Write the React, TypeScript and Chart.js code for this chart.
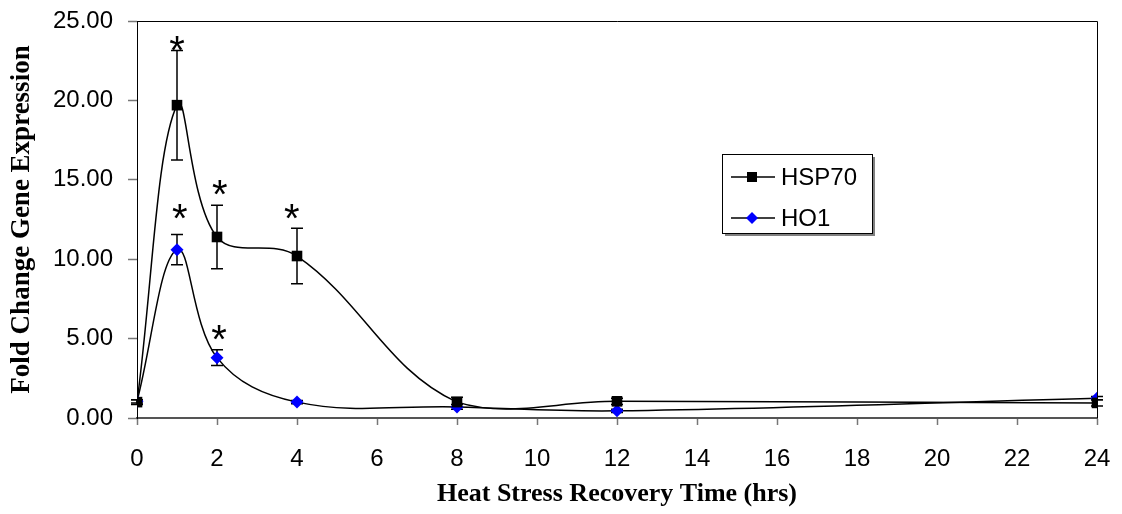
import React, { useEffect, useRef } from "react";
import { Chart, registerables } from "chart.js";

Chart.register(...registerables);

const hours = [0, 1, 2, 4, 8, 12, 24];
const hsp70 = [1.0, 19.7, 11.4, 10.2, 1.0, 1.05, 0.95];
const hsp70Err = [0.15, 3.45, 2.0, 1.75, 0.3, 0.2, 0.2];
const ho1 = [1.05, 10.6, 3.8, 1.0, 0.7, 0.45, 1.25];
const ho1Err = [0.1, 0.95, 0.5, 0.1, 0.15, 0.1, 0.1];

// significance markers (x in hours, y in fold change)
const starX = [1.0, 2.07, 3.87, 1.07, 2.05];
const starY = [23.6, 14.5, 13.0, 13.0, 5.37];

const seriesNames = ["HSP70", "HO1"];
const xTitle = "Heat Stress Recovery Time (hrs)";
const yTitle = "Fold Change Gene Expression";

const errorBarPlugin = {
  id: "errorBars",
  beforeDatasetsDraw(chart: any) {
    const ctx = chart.ctx;
    const xs = chart.scales.x;
    const ys = chart.scales.y;
    ctx.save();
    ctx.strokeStyle = "#000";
    ctx.lineWidth = 1.5;
    chart.data.datasets.forEach((ds: any) => {
      const errs = ds.errors as number[];
      ds.data.forEach((p: any, i: number) => {
        const px = xs.getPixelForValue(p.x);
        const top = ys.getPixelForValue(p.y + errs[i]);
        const bot = ys.getPixelForValue(p.y - errs[i]);
        const cap = 6;
        ctx.beginPath();
        ctx.moveTo(px, top);
        ctx.lineTo(px, bot);
        ctx.moveTo(px - cap, top);
        ctx.lineTo(px + cap, top);
        ctx.moveTo(px - cap, bot);
        ctx.lineTo(px + cap, bot);
        ctx.stroke();
      });
    });
    ctx.restore();
  },
};

const framePlugin = {
  id: "frameAndNotes",
  afterDraw(chart: any) {
    const ctx = chart.ctx;
    const a = chart.chartArea;
    const xs = chart.scales.x;
    const ys = chart.scales.y;
    ctx.save();
    // top and right frame
    ctx.strokeStyle = "#000";
    ctx.lineWidth = 1;
    ctx.beginPath();
    ctx.moveTo(a.left, a.top + 0.5);
    ctx.lineTo(a.right + 0.5, a.top + 0.5);
    ctx.lineTo(a.right + 0.5, a.bottom);
    ctx.stroke();

    // asterisks
    ctx.fillStyle = "#000";
    ctx.font = '40px "Liberation Sans"';
    ctx.textAlign = "center";
    ctx.textBaseline = "alphabetic";
    const m = ctx.measureText("*");
    const off = (m.actualBoundingBoxAscent - m.actualBoundingBoxDescent) / 2;
    starX.forEach((sx, i) => {
      const px = xs.getPixelForValue(sx);
      const py = ys.getPixelForValue(starY[i]);
      ctx.fillText("*", px, py + off);
    });

    // legend
    const lx = 722, ly = 154, lw = 150, lh = 79;
    ctx.fillStyle = "#808080";
    ctx.fillRect(lx + 3, ly + 3, lw, lh);
    ctx.fillStyle = "#fff";
    ctx.fillRect(lx, ly, lw, lh);
    ctx.strokeStyle = "#000";
    ctx.lineWidth = 1;
    ctx.strokeRect(lx + 0.5, ly + 0.5, lw, lh);
    const rows = [177, 218];
    chart.data.datasets.forEach((ds: any, i: number) => {
      const y = rows[i];
      ctx.strokeStyle = "#000";
      ctx.lineWidth = 1.5;
      ctx.beginPath();
      ctx.moveTo(731, y);
      ctx.lineTo(775, y);
      ctx.stroke();
      ctx.fillStyle = ds.pointBackgroundColor;
      const cx = 752;
      if (ds.pointStyle === "rect") {
        ctx.fillRect(cx - 5, y - 5, 10, 10);
      } else {
        ctx.beginPath();
        ctx.moveTo(cx, y - 6);
        ctx.lineTo(cx + 6, y);
        ctx.lineTo(cx, y + 6);
        ctx.lineTo(cx - 6, y);
        ctx.closePath();
        ctx.fill();
      }
      ctx.fillStyle = "#000";
      ctx.font = '24px "Liberation Sans"';
      ctx.textAlign = "left";
      ctx.textBaseline = "middle";
      ctx.fillText(ds.label, 781, y + 1);
    });
    ctx.restore();
  },
};

export default function App() {
  const ref = useRef<HTMLCanvasElement>(null);
  useEffect(() => {
    if (!ref.current) return;
    const chart = new Chart(ref.current, {
      type: "line",
      data: {
        datasets: [
          {
            label: seriesNames[0],
            data: hours.map((h, i) => ({ x: h, y: hsp70[i] })),
            errors: hsp70Err,
            borderColor: "#000",
            borderWidth: 1.5,
            pointStyle: "rect",
            pointRadius: 7.5,
            pointHoverRadius: 7.5,
            pointBackgroundColor: "#000",
            pointBorderColor: "#000",
            pointBorderWidth: 0,
            tension: 0.38,
            fill: false,
          } as any,
          {
            label: seriesNames[1],
            data: hours.map((h, i) => ({ x: h, y: ho1[i] })),
            errors: ho1Err,
            borderColor: "#000",
            borderWidth: 1.5,
            pointStyle: "rectRot",
            pointRadius: 6.5,
            pointHoverRadius: 6.5,
            pointBackgroundColor: "#0000ff",
            pointBorderColor: "#0000ff",
            pointBorderWidth: 0,
            tension: 0.38,
            fill: false,
          } as any,
        ],
      },
      options: {
        animation: false,
        responsive: false,
        events: [],
        layout: { padding: { left: 0, top: 21, right: 25, bottom: 0 } },
        plugins: { legend: { display: false }, tooltip: { enabled: false } },
        scales: {
          x: {
            type: "linear",
            min: 0,
            max: 24,
            afterFit: (s: any) => {
              s.height = 96;
              s.paddingLeft = 0;
              s.paddingRight = 0;
            },
            ticks: {
              stepSize: 2,
              color: "#000",
              padding: 20,
              font: { family: "Liberation Sans", size: 24 },
            },
            grid: {
              drawOnChartArea: false,
              drawTicks: true,
              tickLength: 7,
              tickColor: "#777",
              tickWidth: 1.5,
            },
            border: { color: "#555", width: 2 },
            title: {
              display: true,
              text: xTitle,
              color: "#000",
              padding: { top: 0, bottom: 4 },
              font: { family: "Liberation Serif", size: 26, weight: "bold" },
            },
          },
          y: {
            min: 0,
            max: 25,
            afterFit: (s: any) => {
              s.width = 137;
              s.paddingTop = 0;
              s.paddingBottom = 0;
            },
            ticks: {
              stepSize: 5,
              color: "#000",
              padding: 15,
              callback: (v: any) => Number(v).toFixed(2),
              font: { family: "Liberation Sans", size: 24 },
            },
            grid: {
              drawOnChartArea: false,
              drawTicks: true,
              tickLength: 9,
              tickColor: "#777",
              tickWidth: 1.5,
            },
            border: { color: "#000", width: 1 },
            title: {
              display: true,
              text: yTitle,
              color: "#000",
              padding: { top: 6, bottom: 0 },
              font: { family: "Liberation Serif", size: 27, weight: "bold" },
            },
          },
        },
      } as any,
      plugins: [errorBarPlugin, framePlugin],
    });
    return () => chart.destroy();
  }, []);
  return (
    <div style={{ position: "fixed", left: 0, top: 0, width: 1122, height: 514, background: "#fff" }}>
      <canvas ref={ref} width={1122} height={514} style={{ display: "block" }} />
    </div>
  );
}
